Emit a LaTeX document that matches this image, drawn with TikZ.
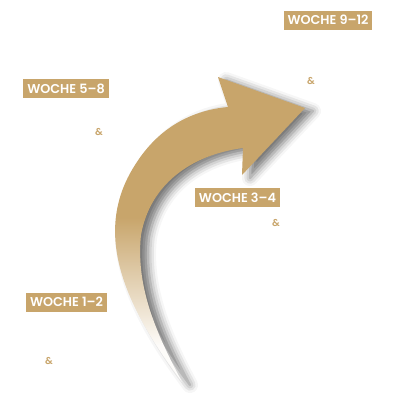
\documentclass[tikz,border=0pt]{standalone}
\usepackage{fontspec}
\setmainfont{Poppins}[BoldFont={Poppins SemiBold}]
\usetikzlibrary{shadows.blur}
\definecolor{gold}{HTML}{C8A56B}
\pgfdeclareverticalshading{arrowfade}{100bp}{color(0bp)=(white); color(31bp)=(gold!4!white); color(52bp)=(gold); color(100bp)=(gold)}

\begin{document}
\begin{tikzpicture}[x=1pt, y=-1pt]
\tikzstyle{week}=[fill=gold, text=white, font=\bfseries\fontsize{12.8}{14}\selectfont, minimum height=19pt, inner xsep=4pt, inner ysep=0pt]
\tikzstyle{amp}=[text=gold, font=\bfseries\fontsize{10}{11}\selectfont, inner sep=0pt]
\tikzstyle{bigarrow}=[shading=arrowfade, blur shadow={shadow xshift=8pt, shadow yshift=-3pt, shadow blur radius=8pt, shadow opacity=55}]
    \useasboundingbox (0,0) rectangle (400,400);
    % the arrow
    \path[bigarrow] (182,382) .. controls (128,310) and (90,235) .. (135,165)
        .. controls (160,125) and (195,110) .. (228,107) -- (218,77) -- (305,108)
        -- (242,175) -- (243,148) .. controls (190,155) and (150,185) .. (141,235)
        .. controls (135,290) and (160,340) .. (182,382) -- cycle;
    % labels
    \node[week] (w912) at (328,20) {WOCHE 9–12};
    \node[amp]  (a912) at (311,81) {\&};
    \node[week] (w58) at (66,88.5) {WOCHE 5–8};
    \node[amp]  (a58) at (99,132) {\&};
    \node[week] (w34) at (237.5,197.5) {WOCHE 3–4};
    \node[amp]  (a34) at (276,223) {\&};
    \node[week] (w12) at (66.5,302) {WOCHE 1–2};
    \node[amp]  (a12) at (49,361) {\&};
\end{tikzpicture}
\end{document}
